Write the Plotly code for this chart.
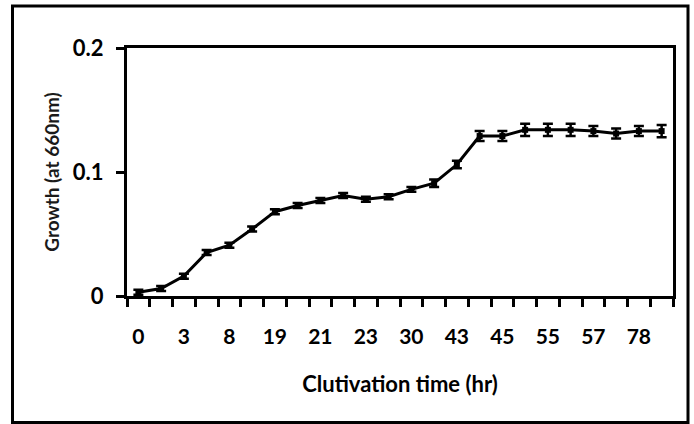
import plotly.graph_objects as go

# Data (24 sampling points; every other category is labelled)
tick_labels = ["0", "3", "8", "19", "21", "23", "30", "43", "45", "55", "57", "78"]
growth = [0.003, 0.006, 0.016, 0.035, 0.041, 0.054, 0.068, 0.073, 0.077, 0.081,
          0.078, 0.080, 0.086, 0.091, 0.106, 0.129, 0.129, 0.134, 0.134, 0.134,
          0.133, 0.131, 0.133, 0.133]
errors = [0.002, 0.002, 0.002, 0.002, 0.002, 0.002, 0.002, 0.002, 0.002, 0.002,
          0.002, 0.002, 0.002, 0.003, 0.003, 0.004, 0.004, 0.005, 0.005, 0.005,
          0.004, 0.004, 0.004, 0.005]

n = len(growth)
x_pos = list(range(n))
label_pos = x_pos[::2]
boundaries = [i - 0.5 for i in range(n + 1)]

FONT = "Lato"

fig = go.Figure()
fig.add_trace(go.Scatter(
    x=x_pos, y=growth,
    mode="lines+markers",
    line=dict(color="black", width=3),
    marker=dict(color="black", size=6, symbol="square"),
    error_y=dict(type="data", array=errors, visible=True,
                 color="black", thickness=2.5, width=5),
    showlegend=False,
    cliponaxis=False,
))

# plot-area pixel geometry
W, H = 694, 424
L, R, T, B = 127, 673, 48, 296
pw, ph = R - L, B - T

def px_to_paper_x(px):
    return (px - L) / pw

def px_to_paper_y(py):
    return (B - py) / ph

fig.add_shape(type="rect", xref="paper", yref="paper",
              x0=px_to_paper_x(12.5), x1=px_to_paper_x(688),
              y0=px_to_paper_y(422.5), y1=px_to_paper_y(6),
              line=dict(color="black", width=3), fillcolor="rgba(0,0,0,0)")

fig.update_layout(
    width=W, height=H,
    margin=dict(l=L, r=W - R, t=T, b=H - B, autoexpand=False),
    paper_bgcolor="white", plot_bgcolor="white",
    font=dict(family=FONT, color="black"),
    xaxis=dict(
        range=[-0.5, n - 0.5],
        tickmode="array", tickvals=label_pos, ticktext=tick_labels,
        ticks="", showgrid=False, zeroline=False,
        showline=True, linecolor="black", linewidth=3, mirror=True,
        tickfont=dict(family=FONT, size=21, color="black", weight="bold"),
        minor=dict(tickmode="array", tickvals=boundaries, ticks="outside",
                   ticklen=8, tickwidth=2.5, tickcolor="black", showgrid=False),
        ticklabelstandoff=20,
        title=dict(text="Clutivation time (hr)", standoff=30,
                   font=dict(family=FONT, size=22, color="black", weight="bold")),
    ),
    yaxis=dict(
        range=[0, 0.2],
        tickmode="array", tickvals=[0, 0.1, 0.2], ticktext=["0", "0.1", "0.2"],
        ticks="outside", ticklen=8, tickwidth=2.5, tickcolor="black",
        showgrid=False, zeroline=False,
        showline=True, linecolor="black", linewidth=3, mirror=True,
        tickfont=dict(family=FONT, size=22, color="black", weight="bold"),
        ticklabelstandoff=8,
        title=dict(text="Growth (at 660nm)", standoff=9,
                   font=dict(family=FONT, size=19, color="#1a1a1a", weight="bold")),
    ),
)

fig.write_html("out.html")
